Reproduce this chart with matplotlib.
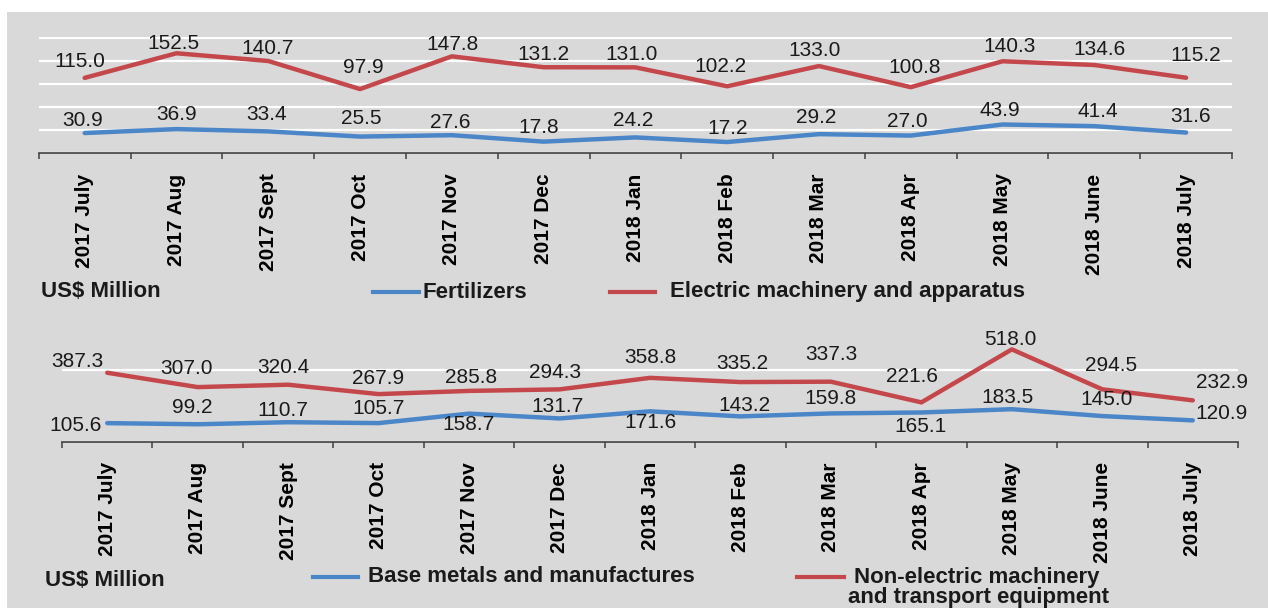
import matplotlib
matplotlib.use("Agg")
import matplotlib.pyplot as plt
from matplotlib.lines import Line2D
from matplotlib.patches import Rectangle

plt.rcParams['font.family'] = ['Liberation Sans', 'DejaVu Sans']

# Data
months = ["2017 July", "2017 Aug", "2017 Sept", "2017 Oct", "2017 Nov", "2017 Dec",
          "2018 Jan", "2018 Feb", "2018 Mar", "2018 Apr", "2018 May", "2018 June", "2018 July"]
fertilizers = [30.9, 36.9, 33.4, 25.5, 27.6, 17.8, 24.2, 17.2, 29.2, 27.0, 43.9, 41.4, 31.6]
electric = [115.0, 152.5, 140.7, 97.9, 147.8, 131.2, 131.0, 102.2, 133.0, 100.8, 140.3, 134.6, 115.2]
base_metals = [105.6, 99.2, 110.7, 105.7, 158.7, 131.7, 171.6, 143.2, 159.8, 165.1, 183.5, 145.0, 120.9]
non_electric = [387.3, 307.0, 320.4, 267.9, 285.8, 294.3, 358.8, 335.2, 337.3, 221.6, 518.0, 294.5, 232.9]

# label offsets in pixels (dx, up)
off_elec = [(-5, 16), (-3, 10), (-1, 13), (3, 22), (1, 12), (0, 13), (-4, 13), (-7, 20),
            (-4, 16), (4, 20), (7, 15), (5, 16), (10, 22)]
off_fert = [(-2, 13), (0, 15), (-2, 17), (1, 18), (-2, 13), (-5, 14), (-2, 17), (0, 14),
            (-3, 17), (-3, 14), (-3, 14), (3, 15), (4, 16)]
off_nonel = [(-30, 11), (-11, 19), (-5, 17), (-1, 16), (2, 13), (-4, 17), (0, 20), (2, 19),
             (0, 27), (-9, 26), (-2, 10), (9, 24), (29, 18)]
off_base = [(-32, -2), (-5, 17), (-5, 12), (0, 15), (-1, -11), (-2, 12), (1, -11), (4, 11),
            (0, 15), (-1, -14), (-4, 12), (4, 17), (29, 7)]

RED = '#c4484b'
BLUE = '#4a86c8'
BG = '#d9d9d9'
W, H = 1268, 608

fig = plt.figure(figsize=(W / 100, H / 100), dpi=100, facecolor='white')
fig.patches.append(Rectangle((7 / W, 0), 1, (H - 12) / H, transform=fig.transFigure,
                             facecolor=BG, edgecolor='none', zorder=-10))


def px(x, y):
    return x / W, 1 - y / H


def make_axes(left, right, bottom_y, top_y):
    ax = fig.add_axes([left / W, 1 - bottom_y / H, (right - left) / W, (bottom_y - top_y) / H])
    ax.set_facecolor('none')
    for s in ['top', 'right', 'left']:
        ax.spines[s].set_visible(False)
    ax.spines['bottom'].set_color('#404040')
    ax.spines['bottom'].set_linewidth(1.2)
    ax.set_xlim(-0.5, len(months) - 0.5)
    ax.set_xticks(range(len(months)))
    ax.set_xticklabels(months, rotation=90, fontsize=15, fontweight='bold', va='top')
    ax.set_xticks([i - 0.5 for i in range(len(months) + 1)], minor=True)
    ax.tick_params(axis='x', which='major', length=0, pad=14.5)
    ax.tick_params(axis='x', which='minor', length=4.5, width=1.1, color='#404040')
    ax.tick_params(axis='y', left=False, labelleft=False)
    ax.grid(axis='y', color='white', linewidth=1.6)
    ax.set_axisbelow(True)
    return ax


def draw(ax, values, color, offsets):
    x = range(len(values))
    ax.plot(x, values, color=color, lw=3.2, solid_joinstyle='round', solid_capstyle='round', zorder=3)
    for i, v in enumerate(values):
        dx, dy = offsets[i]
        ax.annotate(f"{v:.1f}", (i, v), xytext=(dx * 0.72, dy * 0.72), textcoords='offset points',
                    ha='center', va='center', fontsize=15, color='#1a1a1a', zorder=4)


# Top panel
ax1 = make_axes(38.8, 1232, 153.3, 153.3 - 177 * 0.656)
ax1.set_ylim(0, 177)
ax1.set_yticks([0, 35, 70, 105, 140, 175])
draw(ax1, electric, RED, off_elec)
draw(ax1, fertilizers, BLUE, off_fert)

# Bottom panel
ax2 = make_axes(62, 1238, 442, 442 - 600 * 0.1788)
ax2.set_ylim(0, 600)
ax2.set_yticks([0, 400])
draw(ax2, non_electric, RED, off_nonel)
draw(ax2, base_metals, BLUE, off_base)


def legend_item(x0, x1, y, color, text, tx, ha='left', ma='left'):
    (fx0, fy), (fx1, _) = px(x0, y), px(x1, y)
    fig.add_artist(Line2D([fx0, fx1], [fy, fy], color=color, lw=3, transform=fig.transFigure))
    fig.text(*px(tx, y), text, fontsize=16, fontweight='bold', ha=ha, va='center',
             multialignment=ma, color='#1a1a1a')


fig.text(*px(41, 291), "US$ Million", fontsize=16, fontweight='bold', va='center', color='#1a1a1a')
fig.text(*px(45, 581), "US$ Million", fontsize=16, fontweight='bold', va='center', color='#1a1a1a')

legend_item(373, 419, 292, BLUE, "Fertilizers", 423)
legend_item(610, 655, 292, RED, "Electric machinery and apparatus", 670)
legend_item(313, 358, 577, BLUE, "Base metals and manufactures", 368)
legend_item(797, 844, 577, RED, "Non-electric machinery", 854)
fig.text(*px(978, 598), "and transport equipment", fontsize=16, fontweight='bold',
         ha='center', va='center', color='#1a1a1a')

fig.savefig("out.png", dpi=100, facecolor='white')
